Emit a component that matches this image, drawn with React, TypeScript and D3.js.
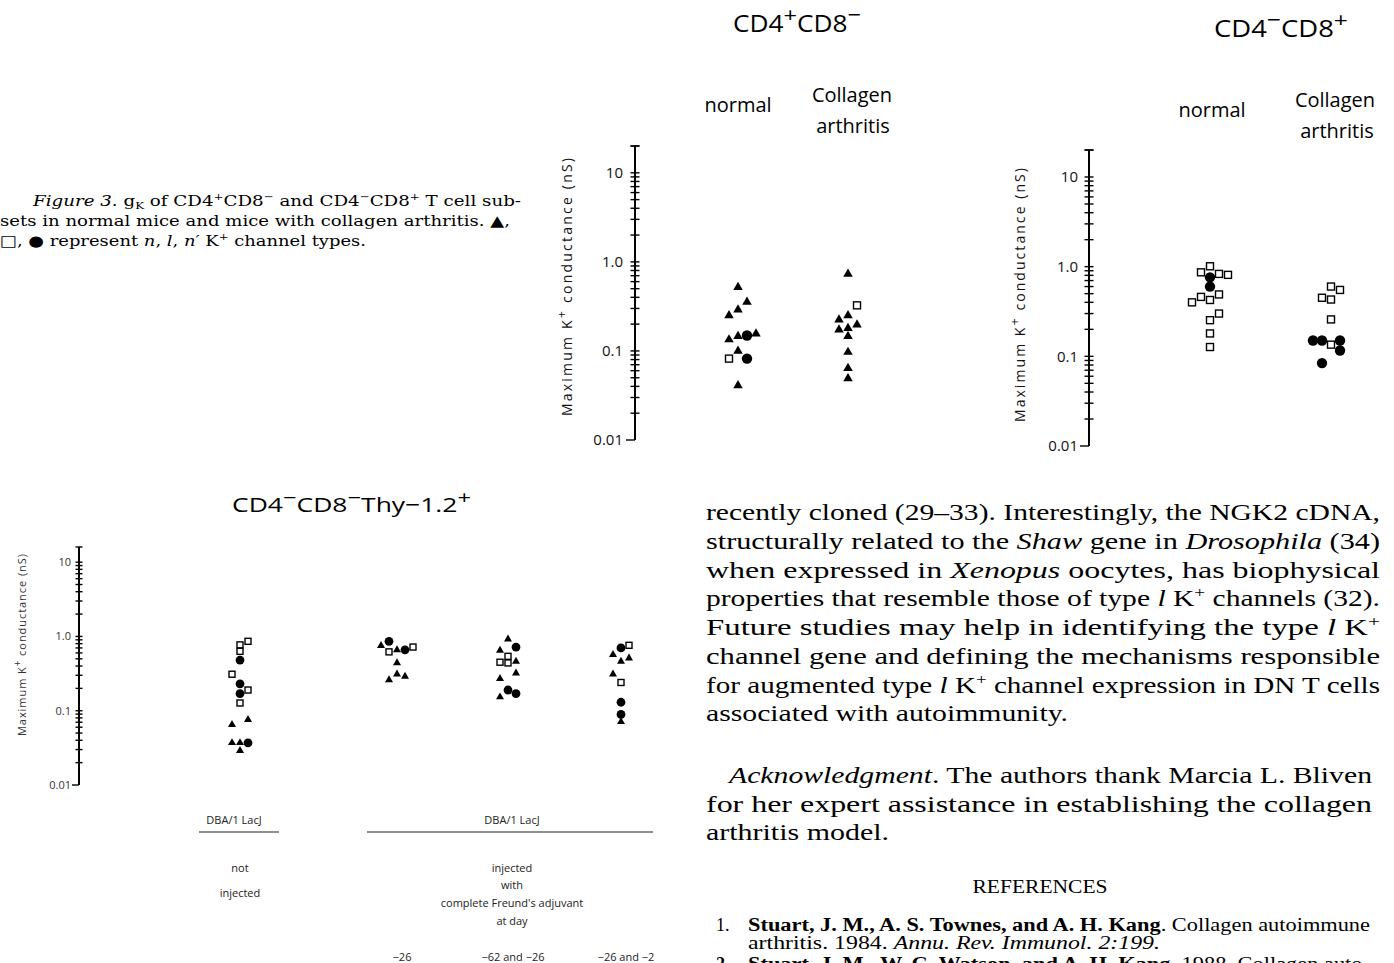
import React from 'react';
import * as d3 from 'd3';

type Kind = 'n' | 'l' | 'np';
type Pt = { v: number; k: Kind; s: number };

// ---- data: K+ conductance (nS), channel type, beeswarm slot ----
const cd4Normal: Pt[] = [
  { v: 0.52, k: 'n', s: 0 }, { v: 0.354, k: 'n', s: 1 }, { v: 0.29, k: 'n', s: 0 },
  { v: 0.25, k: 'n', s: -1 }, { v: 0.134, k: 'n', s: -1 }, { v: 0.146, k: 'n', s: 0 },
  { v: 0.149, k: 'np', s: 1 }, { v: 0.156, k: 'n', s: 2 }, { v: 0.1, k: 'n', s: 0 },
  { v: 0.082, k: 'np', s: 1 }, { v: 0.082, k: 'l', s: -1 }, { v: 0.041, k: 'n', s: 0 },
];
const cd4Collagen: Pt[] = [
  { v: 0.73, k: 'n', s: 0 }, { v: 0.325, k: 'l', s: 1 }, { v: 0.25, k: 'n', s: 0 },
  { v: 0.224, k: 'n', s: -1 }, { v: 0.197, k: 'n', s: 1 }, { v: 0.18, k: 'n', s: 0 },
  { v: 0.173, k: 'n', s: -1 }, { v: 0.146, k: 'n', s: 0 }, { v: 0.097, k: 'n', s: 0 },
  { v: 0.064, k: 'n', s: 0 }, { v: 0.049, k: 'n', s: 0 },
];
const cd8Normal: Pt[] = [
  { v: 1.01, k: 'l', s: 0 }, { v: 0.865, k: 'l', s: -1 }, { v: 0.83, k: 'l', s: 1 },
  { v: 0.81, k: 'l', s: 2 }, { v: 0.76, k: 'np', s: 0 }, { v: 0.6, k: 'np', s: 0 },
  { v: 0.49, k: 'l', s: 1 }, { v: 0.46, k: 'l', s: -1 }, { v: 0.425, k: 'l', s: 0 },
  { v: 0.4, k: 'l', s: -2 }, { v: 0.3, k: 'l', s: 1 }, { v: 0.253, k: 'l', s: 0 },
  { v: 0.18, k: 'l', s: 0 }, { v: 0.127, k: 'l', s: 0 },
];
const cd8Collagen: Pt[] = [
  { v: 0.6, k: 'l', s: 0 }, { v: 0.55, k: 'l', s: 1 }, { v: 0.45, k: 'l', s: -1 },
  { v: 0.43, k: 'l', s: 0 }, { v: 0.258, k: 'l', s: 0 }, { v: 0.15, k: 'np', s: -2 },
  { v: 0.15, k: 'np', s: -1 }, { v: 0.135, k: 'l', s: 0 }, { v: 0.15, k: 'np', s: 1 },
  { v: 0.116, k: 'np', s: 1 }, { v: 0.084, k: 'np', s: -1 },
];
const dnNotInjected: Pt[] = [
  { v: 0.86, k: 'l', s: 1 }, { v: 0.77, k: 'l', s: 0 }, { v: 0.63, k: 'l', s: 0 },
  { v: 0.48, k: 'np', s: 0 }, { v: 0.31, k: 'l', s: -1 }, { v: 0.23, k: 'np', s: 0 },
  { v: 0.19, k: 'l', s: 1 }, { v: 0.17, k: 'np', s: 0 }, { v: 0.127, k: 'l', s: 0 },
  { v: 0.076, k: 'n', s: 1 }, { v: 0.065, k: 'n', s: -1 }, { v: 0.037, k: 'n', s: -1 },
  { v: 0.037, k: 'n', s: 0 }, { v: 0.037, k: 'np', s: 1 }, { v: 0.029, k: 'n', s: 0 },
];
const dnDay26: Pt[] = [
  { v: 0.86, k: 'np', s: -1 }, { v: 0.75, k: 'n', s: -2 }, { v: 0.72, k: 'l', s: 2 },
  { v: 0.66, k: 'n', s: 0 }, { v: 0.66, k: 'np', s: 1 }, { v: 0.62, k: 'l', s: -1 },
  { v: 0.44, k: 'n', s: 0 }, { v: 0.31, k: 'n', s: 0 }, { v: 0.29, k: 'n', s: 1 },
  { v: 0.26, k: 'n', s: -1 },
];
const dnDay62and26: Pt[] = [
  { v: 0.92, k: 'n', s: 0 }, { v: 0.72, k: 'np', s: 1 }, { v: 0.65, k: 'n', s: -1 },
  { v: 0.54, k: 'l', s: 0 }, { v: 0.46, k: 'n', s: 1 }, { v: 0.45, k: 'l', s: -1 },
  { v: 0.44, k: 'l', s: 0 }, { v: 0.32, k: 'n', s: 1 }, { v: 0.27, k: 'n', s: -1 },
  { v: 0.19, k: 'np', s: 0 }, { v: 0.17, k: 'np', s: 1 }, { v: 0.153, k: 'n', s: -1 },
];
const dnDay26and2: Pt[] = [
  { v: 0.76, k: 'l', s: 1 }, { v: 0.7, k: 'np', s: 0 }, { v: 0.57, k: 'n', s: -1 },
  { v: 0.51, k: 'n', s: 1 }, { v: 0.46, k: 'n', s: 0 }, { v: 0.31, k: 'n', s: -1 },
  { v: 0.24, k: 'l', s: 0 }, { v: 0.13, k: 'np', s: 0 }, { v: 0.089, k: 'np', s: 0 },
  { v: 0.071, k: 'n', s: 0 },
];

const tickValues = [0.01, 0.1, 1, 10];
const tickLabels = ['0.01', '0.1', '1.0', '10'];
const topCategories = ['normal', 'collagen'];
const dnCategories = ['not', 'd26', 'd62', 'd2'];
const dnDayLabels = ['\u221226', '\u221262 and \u221226', '\u221226 and \u22122'];

const SANS = '"Open Sans", "DejaVu Sans", sans-serif';
const SERIF = '"Liberation Serif", "DejaVu Serif", serif';

type PanelCfg = {
  axisX: number; yTop: number; yBottom: number; max: number;
  colX: (c: string) => number; step: number; big: boolean;
  labelFont: number; labelGap: number; tickHalf: number;
  groups: { cat: string; pts: Pt[] }[];
  ylab: { x: number; y: number; len: number; font: number };
  color: string;
};

function Marker({ k, x, y, big }: { k: Kind; x: number; y: number; big: boolean }) {
  if (k === 'l') {
    const w = big ? 7 : 6;
    return <rect x={x - w / 2} y={y - w / 2} width={w} height={w} fill="#fff" stroke="#000" strokeWidth={1.4} />;
  }
  if (k === 'n') {
    const side = big ? 9.5 : 8;
    const p = d3.symbol(d3.symbolTriangle, (side * side * Math.sqrt(3)) / 4)() as string;
    return <path d={p} transform={`translate(${x},${y})`} fill="#000" />;
  }
  const r = big ? 5.2 : 4.4;
  const p = d3.symbol(d3.symbolCircle, Math.PI * r * r)() as string;
  return <path d={p} transform={`translate(${x},${y})`} fill="#000" />;
}

function Panel({ cfg }: { cfg: PanelCfg }) {
  const y = d3.scaleLog().domain([0.01, cfg.max]).range([cfg.yBottom, cfg.yTop]);
  const ticks = y.ticks().filter((t) => t >= 0.01 && t <= cfg.max);
  const ax = cfg.axisX;
  const h = cfg.tickHalf;
  return (
    <g>
      <line x1={ax} x2={ax} y1={y(0.01)} y2={y(cfg.max)} stroke="#000" strokeWidth={2} />
      {ticks.map((t, i) => (
        <line key={i} x1={t === 0.01 ? ax - 2 * h : ax - h} x2={t === 0.01 ? ax : ax + h}
          y1={y(t)} y2={y(t)} stroke="#000" strokeWidth={1.4} />
      ))}
      <line x1={ax - h} x2={ax + h} y1={y(cfg.max)} y2={y(cfg.max)} stroke="#000" strokeWidth={1.4} />
      {tickValues.map((t, i) => (
        <text key={i} x={ax - cfg.labelGap} y={y(t)} dy="0.35em" textAnchor="end"
          fontFamily={SANS} fontSize={cfg.labelFont} fill={cfg.color}>{tickLabels[i]}</text>
      ))}
      <text transform={`translate(${cfg.ylab.x},${cfg.ylab.y}) rotate(-90)`} textAnchor="middle"
        fontFamily={SANS} fontSize={cfg.ylab.font} fill={cfg.color}
        textLength={cfg.ylab.len} lengthAdjust="spacing">
        Maximum K<tspan dy={-cfg.ylab.font * 0.45} fontSize={cfg.ylab.font * 0.9}>+</tspan>
        <tspan dy={cfg.ylab.font * 0.45}>{'  conductance   (nS)'}</tspan>
      </text>
      {cfg.groups.map((g) =>
        g.pts.map((p, i) => (
          <Marker key={g.cat + i} k={p.k} x={cfg.colX(g.cat) + p.s * cfg.step} y={y(p.v)} big={cfg.big} />
        ))
      )}
    </g>
  );
}

type Part = [string, string?];
function Parts({ parts, fs, supScale = 0.65, supRaise = 0.38 }: { parts: Part[]; fs: number; supScale?: number; supRaise?: number }) {
  const out: React.ReactNode[] = [];
  let raised = 0;
  parts.forEach(([t, st], i) => {
    const isSup = st === 'sup';
    const isSub = st === 'sub';
    const target = isSup ? -fs * supRaise : isSub ? fs * 0.2 : 0;
    const dy = target - raised;
    raised = target;
    out.push(
      <tspan key={i} dy={dy || undefined}
        fontStyle={st === 'i' ? 'italic' : undefined}
        fontWeight={st === 'b' ? 'bold' : undefined}
        fontSize={isSup || isSub ? fs * supScale : undefined}>{t}</tspan>
    );
  });
  return <>{out}</>;
}

type Line = { x: number; y: number; w?: number; parts: Part[] };

const bodyLines: Line[] = [
  { x: 706, y: 520, w: 674, parts: [['recently cloned (29\u201333). Interestingly, the NGK2 cDNA,']] },
  { x: 706, y: 549, w: 674, parts: [['structurally related to the '], ['Shaw', 'i'], [' gene in '], ['Drosophila', 'i'], [' (34)']] },
  { x: 706, y: 578, w: 674, parts: [['when expressed in '], ['Xenopus', 'i'], [' oocytes, has biophysical']] },
  { x: 706, y: 606, w: 674, parts: [['properties that resemble those of type '], ['l', 'i'], [' K'], ['+', 'sup'], [' channels (32).']] },
  { x: 706, y: 635, w: 674, parts: [['Future studies may help in identifying the type '], ['l', 'i'], [' K'], ['+', 'sup']] },
  { x: 706, y: 664, w: 674, parts: [['channel gene and defining the mechanisms responsible']] },
  { x: 706, y: 693, w: 674, parts: [['for augmented type '], ['l', 'i'], [' K'], ['+', 'sup'], [' channel expression in DN T cells']] },
  { x: 706, y: 721, w: 362, parts: [['associated with autoimmunity.']] },
  { x: 729, y: 783, w: 643, parts: [['Acknowledgment', 'i'], ['. The authors thank Marcia L. Bliven']] },
  { x: 706, y: 812, w: 666, parts: [['for her expert assistance in establishing the collagen']] },
  { x: 706, y: 840, w: 183, parts: [['arthritis model.']] },
];

const refLines: Line[] = [
  { x: 716, y: 931, parts: [['1.']] },
  { x: 748, y: 931, w: 622, parts: [['Stuart, J. M., A. S. Townes, and A. H. Kang', 'b'], ['. Collagen autoimmune']] },
  { x: 748, y: 949, w: 412, parts: [['arthritis. 1984. '], ['Annu. Rev. Immunol. 2:199.', 'i']] },
  { x: 716, y: 970, parts: [['2.', 'b']] },
  { x: 748, y: 970, w: 622, parts: [['Stuart, J. M., W. C. Watson, and A. H. Kang', 'b'], ['. 1988. Collagen auto-']] },
];

const captionLines: Line[] = [
  { x: 33, y: 206, w: 488, parts: [['Figure 3.', 'i'], ['  g'], ['K', 'sub'], [' of CD4'], ['+', 'sup'], ['CD8'], ['\u2212', 'sup'], [' and CD4'], ['\u2212', 'sup'], ['CD8'], ['+', 'sup'], [' T cell sub-']] },
  { x: 0, y: 226, w: 510, parts: [['sets in normal mice and mice with collagen arthritis. \u25B2,']] },
  { x: 0, y: 246, w: 366, parts: [['\u25A1, \u25CF represent '], ['n', 'i'], [', '], ['l', 'i'], [', '], ['n\u2032', 'i'], [' K'], ['+', 'sup'], [' channel types.']] },
];

function TextLines({ lines, fs, family }: { lines: Line[]; fs: number; family: string }) {
  return (
    <g fontFamily={family} fontSize={fs} fill="#000">
      {lines.map((l, i) => (
        <text key={i} x={l.x} y={l.y} textLength={l.w} lengthAdjust={l.w ? 'spacingAndGlyphs' : undefined}>
          <Parts parts={l.parts} fs={fs} />
        </text>
      ))}
    </g>
  );
}

function Title({ x, y, parts, fs, w }: { x: number; y: number; parts: Part[]; fs: number; w: number }) {
  return (
    <text x={x} y={y} fontFamily={SANS} fontSize={fs} textLength={w} lengthAdjust="spacingAndGlyphs">
      <Parts parts={parts} fs={fs} supScale={0.9} supRaise={0.42} />
    </text>
  );
}

export default function App() {
  const colA = d3.scalePoint<string>().domain(topCategories).range([738, 848]);
  const colB = d3.scalePoint<string>().domain(topCategories).range([1210, 1331]);
  const colC = d3.scaleOrdinal<string, number>().domain(dnCategories).range([240, 397, 508, 621]);

  const panelA: PanelCfg = {
    axisX: 635, yTop: 146, yBottom: 440, max: 20, colX: (c) => colA(c) as number, step: 9, big: true,
    labelFont: 15, labelGap: 12, tickHalf: 4.5, color: '#111',
    groups: [{ cat: 'normal', pts: cd4Normal }, { cat: 'collagen', pts: cd4Collagen }],
    ylab: { x: 572, y: 287, len: 258, font: 14 },
  };
  const panelB: PanelCfg = {
    axisX: 1089, yTop: 150, yBottom: 446, max: 20, colX: (c) => colB(c) as number, step: 9, big: true,
    labelFont: 15, labelGap: 11, tickHalf: 4.5, color: '#111',
    groups: [{ cat: 'normal', pts: cd8Normal }, { cat: 'collagen', pts: cd8Collagen }],
    ylab: { x: 1025, y: 295, len: 254, font: 14 },
  };
  const panelC: PanelCfg = {
    axisX: 79, yTop: 547, yBottom: 785, max: 16, colX: (c) => colC(c), step: 8, big: false,
    labelFont: 11, labelGap: 8, tickHalf: 3.5, color: '#333',
    groups: [
      { cat: 'not', pts: dnNotInjected }, { cat: 'd26', pts: dnDay26 },
      { cat: 'd62', pts: dnDay62and26 }, { cat: 'd2', pts: dnDay26and2 },
    ],
    ylab: { x: 26, y: 645, len: 182, font: 11 },
  };

  return (
    <svg width={1394} height={963} style={{ position: 'absolute', left: 0, top: 0, background: '#fff' }}>
      <rect width={1394} height={963} fill="#fff" />
      <TextLines lines={captionLines} fs={15} family={'"DejaVu Serif", serif'} />

      <Title x={733} y={32} fs={23} w={128} parts={[['CD4'], ['+', 'sup'], ['CD8'], ['\u2212', 'sup']]} />
      <Title x={1214} y={37} fs={23} w={134} parts={[['CD4'], ['\u2212', 'sup'], ['CD8'], ['+', 'sup']]} />
      <g fontFamily={SANS} fontSize={20} textAnchor="middle">
        <text x={colA('normal')} y={112}>normal</text>
        <text x={(colA('collagen') as number) + 4} y={102}>Collagen</text>
        <text x={(colA('collagen') as number) + 5} y={133}>arthritis</text>
        <text x={(colB('normal') as number) + 2} y={117}>normal</text>
        <text x={(colB('collagen') as number) + 4} y={107}>Collagen</text>
        <text x={(colB('collagen') as number) + 6} y={138}>arthritis</text>
      </g>

      <Panel cfg={panelA} />
      <Panel cfg={panelB} />

      <Title x={232} y={512} fs={20} w={239} parts={[['CD4'], ['\u2212', 'sup'], ['CD8'], ['\u2212', 'sup'], ['Thy\u22121.2'], ['+', 'sup']]} />
      <Panel cfg={panelC} />

      <g fontFamily={SANS} fontSize={11} fill="#222" textAnchor="middle">
        <text x={234} y={824}>DBA/1 LacJ</text>
        <line x1={199} x2={279} y1={832} y2={832} stroke="#222" strokeWidth={1.2} />
        <text x={512} y={824}>DBA/1 LacJ</text>
        <line x1={367} x2={653} y1={832} y2={832} stroke="#222" strokeWidth={1.2} />
        <text x={240} y={872}>not</text>
        <text x={240} y={897}>injected</text>
        <text x={512} y={872}>injected</text>
        <text x={512} y={889}>with</text>
        <text x={512} y={907}>complete Freund's adjuvant</text>
        <text x={512} y={925}>at day</text>
        {dnDayLabels.map((t, i) => (
          <text key={i} x={colC(dnCategories[i + 1]) + 5} y={961}>{t}</text>
        ))}
      </g>

      <TextLines lines={bodyLines} fs={24} family={SERIF} />
      <text x={1040} y={893} textAnchor="middle" fontFamily={SERIF} fontSize={18} textLength={135} lengthAdjust="spacingAndGlyphs">REFERENCES</text>
      <TextLines lines={refLines} fs={18} family={SERIF} />
    </svg>
  );
}
